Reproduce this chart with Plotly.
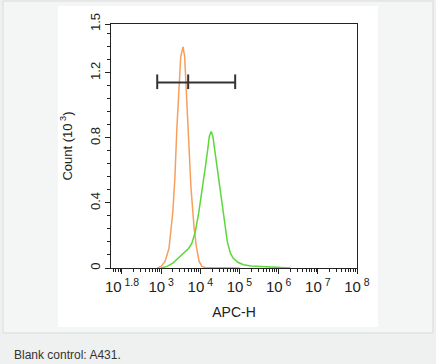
import math
import plotly.graph_objects as go

# ---- data (log10 of APC-H intensity, count in thousands) ----
control_log = [2.9, 3.0, 3.1, 3.2, 3.3, 3.35, 3.4, 3.45, 3.5, 3.56, 3.6, 3.64, 3.7, 3.76, 3.84, 3.9, 3.97, 4.04, 4.12, 4.5, 5.0]
control_cnt = [0.0, 0.01, 0.04, 0.12, 0.35, 0.55, 0.85, 1.1, 1.3, 1.36, 1.3, 1.1, 0.8, 0.5, 0.25, 0.13, 0.04, 0.01, 0.003, 0.002, 0.0]

sample_log = [3.0, 3.15, 3.3, 3.47, 3.6, 3.7, 3.78, 3.87, 3.96, 4.03, 4.09, 4.14, 4.19, 4.23, 4.28, 4.32, 4.36, 4.41, 4.46, 4.51, 4.59, 4.69, 4.77, 4.84, 4.96, 5.1, 5.3, 5.6, 5.9, 6.1, 6.3]
sample_cnt = [0.0, 0.01, 0.03, 0.07, 0.1, 0.12, 0.15, 0.22, 0.34, 0.45, 0.54, 0.64, 0.73, 0.81, 0.84, 0.81, 0.74, 0.65, 0.56, 0.48, 0.34, 0.16, 0.09, 0.06, 0.035, 0.02, 0.012, 0.008, 0.005, 0.002, 0.0]

gate_log = [2.9, 3.69, 4.89]   # left end, middle mark, right end
gate_y = 1.14
gate_cap = [1.10, 1.19]

x_tick_log = [2.0, 3, 4, 5, 6, 7, 8]
x_tick_text = ["10<sup> 1.8</sup>", "10<sup> 3</sup>", "10<sup> 4</sup>", "10<sup> 5</sup>",
               "10<sup> 6</sup>", "10<sup> 7</sup>", "10<sup> 8</sup>"]
y_ticks = [0, 0.4, 0.8, 1.2, 1.5]
y_tick_text = ["0", "0.4", "0.8", "1.2", "1.5"]

FONT = "Liberation Sans, Arial, sans-serif"

fig = go.Figure()
fig.add_trace(go.Scatter(x=[10 ** v for v in control_log], y=control_cnt, mode="lines",
                         line=dict(color="#F5A05E", width=1.5), hoverinfo="skip"))
fig.add_trace(go.Scatter(x=[10 ** v for v in sample_log], y=sample_cnt, mode="lines",
                         line=dict(color="#5CD83A", width=1.5), hoverinfo="skip"))

# gate bar
gx, gy = [10 ** gate_log[0], 10 ** gate_log[2], None], [gate_y, gate_y, None]
for g in gate_log:
    gx += [10 ** g, 10 ** g, None]
    gy += [gate_cap[0], gate_cap[1], None]
fig.add_trace(go.Scatter(x=gx, y=gy, mode="lines", line=dict(color="#333333", width=2),
                         hoverinfo="skip"))

W, H = 436, 364
L, R, T, B = 111, 357, 24, 268


def px(X):
    return (X - L) / (R - L)


def py(Y):
    return (B - Y) / (B - T)


shapes = [
    dict(type="rect", xref="paper", yref="paper", x0=px(3), x1=px(433), y0=py(333), y1=py(1),
         line=dict(color="#DADCDC", width=1), fillcolor="#F4F5F5", layer="below"),
    dict(type="rect", xref="paper", yref="paper", x0=px(58), x1=px(378), y0=py(327), y1=py(6),
         line=dict(width=0), fillcolor="#FFFFFF", layer="below"),
]

minor_x = [k * 10 ** n for n in range(1, 8) for k in range(2, 10)
           if 1.72 <= math.log10(k * 10 ** n) <= 8]

fig.update_layout(
    width=W, height=H,
    margin=dict(l=L, r=W - R, t=T, b=H - B, autoexpand=False),
    paper_bgcolor="#EFF0F0", plot_bgcolor="#FFFFFF",
    showlegend=False,
    shapes=shapes,
    font=dict(family=FONT, color="#222222", size=13),
    xaxis=dict(type="log", range=[1.72, 8.0], tickmode="array", automargin=False,
               tickvals=[10 ** v for v in x_tick_log], ticktext=x_tick_text,
               ticks="outside", ticklen=5, tickwidth=1, tickcolor="#222",
               showline=True, linecolor="#222", linewidth=1, mirror=True,
               showgrid=False, zeroline=False, tickfont=dict(size=15),
               minor=dict(tickmode="array", tickvals=minor_x, ticks="outside", ticklen=3,
                          tickwidth=1, tickcolor="#222", showgrid=False),
               title=dict(text="APC-H", font=dict(size=14), standoff=13)),
    yaxis=dict(range=[0, 1.5], tickmode="array", tickvals=y_ticks, ticktext=y_tick_text,
               tickangle=-90, ticks="outside", ticklen=5, tickwidth=1, tickcolor="#222",
               automargin=False,
               showline=True, linecolor="#222", linewidth=1, mirror=True,
               showgrid=False, zeroline=False, tickfont=dict(size=13),
               minor=dict(dtick=0.08, tick0=0, ticks="outside", ticklen=3, tickwidth=1,
                          tickcolor="#222", showgrid=False),
               title=dict(text="Count (10<sup> 3</sup>)", font=dict(size=13), standoff=12)),
    annotations=[dict(text="Blank control: A431.", xref="paper", yref="paper",
                      x=px(12), y=py(355), xanchor="left", yanchor="middle", showarrow=False,
                      font=dict(size=12, color="#333333", family=FONT))],
)

fig.write_html("out.html", config={"displayModeBar": False},
               post_script="document.body.style.margin='0';document.body.style.overflow='hidden';")
